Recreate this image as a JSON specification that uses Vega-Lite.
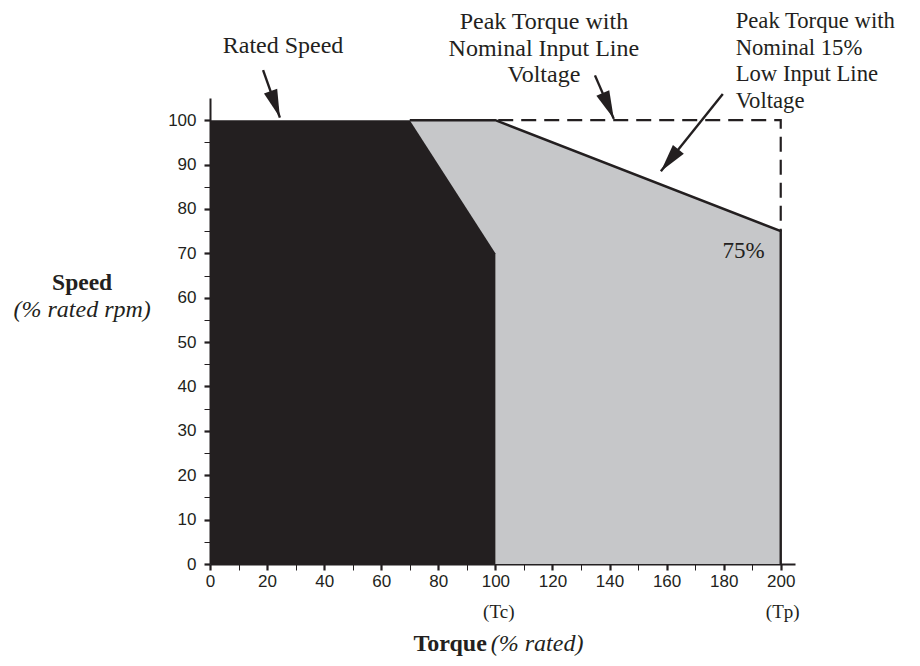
{
  "$schema": "https://vega.github.io/schema/vega-lite/v6.json",
  "width": 585,
  "height": 466,
  "autosize": {"type": "none"},
  "padding": {"left": 210, "top": 98, "right": 125, "bottom": 102},
  "background": "white",
  "config": {
    "view": {"stroke": null},
    "text": {"font": "Liberation Serif", "fontSize": 21, "color": "#231f20", "baseline": "alphabetic"}
  },
  "encoding": {
    "x": {
      "field": "t", "type": "quantitative",
      "scale": {"domain": [0, 205], "nice": false, "zero": false},
      "axis": {
        "title": null, "grid": false,
        "values": [0,10,20,30,40,50,60,70,80,90,100,110,120,130,140,150,160,170,180,190,200],
        "labelExpr": "datum.value % 20 == 0 ? datum.label : ''",
        "tickWidth": {"condition": {"test": "datum.value % 20 == 0", "value": 2.2}, "value": 1},
        "tickSize": 6, "tickColor": "#231f20",
        "domainColor": "#231f20", "domainWidth": 2,
        "labelFont": "Liberation Sans", "labelFontSize": 17, "labelColor": "#231f20",
        "labelPadding": 3, "labelFlush": false, "labelOverlap": false
      }
    },
    "y": {
      "field": "s", "type": "quantitative",
      "scale": {"domain": [0, 105], "nice": false},
      "axis": {
        "title": null, "grid": false,
        "values": [0,5,10,15,20,25,30,35,40,45,50,55,60,65,70,75,80,85,90,95,100],
        "labelExpr": "datum.value % 10 == 0 ? datum.label : ''",
        "tickWidth": {"condition": {"test": "datum.value % 10 == 0", "value": 2.2}, "value": 1},
        "tickSize": 6, "tickColor": "#231f20",
        "domainColor": "#231f20", "domainWidth": 2,
        "labelFont": "Liberation Sans", "labelFontSize": 17, "labelColor": "#231f20",
        "labelPadding": 8, "labelFlush": false, "labelOverlap": false
      }
    }
  },
  "layer": [
    {
      "data": {"values": [{"t": 70, "s": 100}, {"t": 100, "s": 100}, {"t": 200, "s": 75}]},
      "mark": {"type": "area", "color": "#c6c7c9"}
    },
    {
      "data": {"values": [{"t": 0, "s": 100}, {"t": 70, "s": 100}, {"t": 100, "s": 70}]},
      "mark": {"type": "area", "color": "#231f20"}
    },
    {
      "data": {"values": [{"seq": 1, "t": 70, "s": 100}, {"seq": 2, "t": 100, "s": 100}, {"seq": 3, "t": 200, "s": 75}, {"seq": 4, "t": 200, "s": 0}]},
      "mark": {"type": "line", "color": "#231f20", "strokeWidth": 2.4, "clip": false},
      "encoding": {"order": {"field": "seq", "type": "quantitative"}}
    },
    {
      "data": {"values": [{"seq": 1, "t": 101, "s": 100}, {"seq": 2, "t": 200, "s": 100}, {"seq": 3, "t": 200, "s": 75}]},
      "mark": {"type": "line", "color": "#231f20", "strokeWidth": 2.2, "strokeDash": [15, 8], "clip": false},
      "encoding": {"order": {"field": "seq", "type": "quantitative"}}
    },
    {
      "data": {"values": [
        {"name": "rated", "t": 18.6, "s": 111.3, "t2": 24.5, "s2": 100.6},
        {"name": "nominal", "t": 134.9, "s": 110.1, "t2": 141.5, "s2": 100.3},
        {"name": "low", "t": 179.7, "s": 105.9, "t2": 158, "s2": 88.5}
      ]},
      "layer": [
        {
          "mark": {"type": "rule", "color": "#231f20", "strokeWidth": 2.4, "clip": false},
          "encoding": {"x2": {"field": "t2"}, "y2": {"field": "s2"}}
        },
        {
          "transform": [{"filter": "datum.name == 'rated'"}],
          "mark": {"type": "point", "shape": "M0,0L-0.5,2L0.5,2Z", "filled": true, "color": "#231f20", "opacity": 1, "size": 784, "angle": 160.5, "clip": false},
          "encoding": {"x": {"field": "t2", "type": "quantitative"}, "y": {"field": "s2", "type": "quantitative"}}
        },
        {
          "transform": [{"filter": "datum.name == 'nominal'"}],
          "mark": {"type": "point", "shape": "M0,0L-0.5,2L0.5,2Z", "filled": true, "color": "#231f20", "opacity": 1, "size": 784, "angle": 156.9, "clip": false},
          "encoding": {"x": {"field": "t2", "type": "quantitative"}, "y": {"field": "s2", "type": "quantitative"}}
        },
        {
          "transform": [{"filter": "datum.name == 'low'"}],
          "mark": {"type": "point", "shape": "M0,0L-0.5,2L0.5,2Z", "filled": true, "color": "#231f20", "opacity": 1, "size": 784, "angle": 218.7, "clip": false},
          "encoding": {"x": {"field": "t2", "type": "quantitative"}, "y": {"field": "s2", "type": "quantitative"}}
        }
      ]
    },
    {
      "data": {"values": [{"label": "Rated Speed", "t": 25.6, "s": 115.1}]},
      "mark": {"type": "text", "align": "center", "fontSize": 24, "clip": false},
      "encoding": {"text": {"field": "label"}}
    },
    {
      "data": {"values": [{"label": "Peak Torque with\nNominal Input Line\nVoltage", "t": 117.0, "s": 120.5}]},
      "mark": {"type": "text", "align": "center", "lineBreak": "\n", "lineHeight": 26.5, "fontSize": 24, "clip": false},
      "encoding": {"text": {"field": "label"}}
    },
    {
      "data": {"values": [{"label": "Peak Torque with\nNominal 15%\nLow Input Line\nVoltage", "t": 184.2, "s": 120.7}]},
      "mark": {"type": "text", "align": "left", "lineBreak": "\n", "lineHeight": 26.5, "fontSize": 22.7, "clip": false},
      "encoding": {"text": {"field": "label"}}
    },
    {
      "data": {"values": [{"label": "75%", "t": 194.4, "s": 68.9}]},
      "mark": {"type": "text", "align": "right", "fontSize": 23, "clip": false},
      "encoding": {"text": {"field": "label"}}
    },
    {
      "data": {"values": [{"label": "(Tc)", "t": 101.2, "s": -12.2}, {"label": "(Tp)", "t": 200.7, "s": -12.2}]},
      "mark": {"type": "text", "align": "center", "fontSize": 19, "clip": false},
      "encoding": {"text": {"field": "label"}}
    },
    {
      "data": {"values": [{"label": "Torque", "t": 97.0, "s": -19.6}]},
      "mark": {"type": "text", "align": "right", "fontWeight": "bold", "fontSize": 24, "clip": false},
      "encoding": {"text": {"field": "label"}}
    },
    {
      "data": {"values": [{"label": "(% rated)", "t": 98.4, "s": -19.6}]},
      "mark": {"type": "text", "align": "left", "fontStyle": "italic", "fontSize": 24, "clip": false},
      "encoding": {"text": {"field": "label"}}
    },
    {
      "data": {"values": [{"label": "Speed", "t": -44.8, "s": 61.7}]},
      "mark": {"type": "text", "align": "center", "fontWeight": "bold", "fontSize": 23.5, "clip": false},
      "encoding": {"text": {"field": "label"}}
    },
    {
      "data": {"values": [{"label": "(% rated rpm)", "t": -44.8, "s": 55.6}]},
      "mark": {"type": "text", "align": "center", "fontStyle": "italic", "fontSize": 24, "clip": false},
      "encoding": {"text": {"field": "label"}}
    }
  ]
}
